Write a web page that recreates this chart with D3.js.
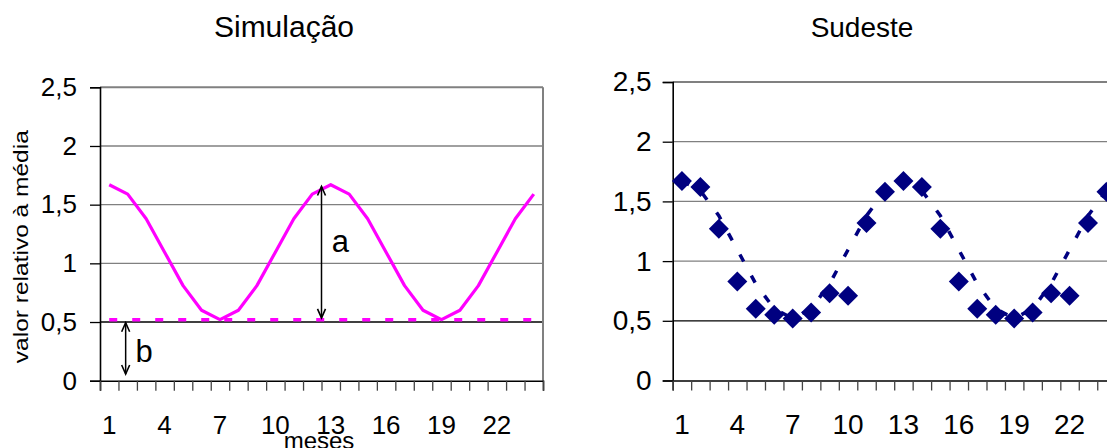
<!DOCTYPE html>
<html>
<head>
<meta charset="utf-8">
<script src="https://cdn.jsdelivr.net/npm/d3@7"></script>
<style>
  body { margin: 0; background: #fff; }
  text { font-family: Arial, "Liberation Sans", sans-serif; fill: #000; }
</style>
</head>
<body>
<script>
// meses 1..24
var meses = [1,2,3,4,5,6,7,8,9,10,11,12,13,14,15,16,17,18,19,20,21,22,23,24];
var rotulosX = [1,4,7,10,13,16,19,22];
var rotulosY = [0,0.5,1,1.5,2,2.5];

// simulacao (curva rosa)
var simulacao = [1.67,1.59,1.38,1.095,0.81,0.60,0.52,0.60,0.81,1.095,1.38,1.59,
                 1.67,1.59,1.38,1.095,0.81,0.60,0.52,0.60,0.81,1.095,1.38,1.59];
var nivelB = 0.52;

// sudeste (losangos) + curva ajustada tracejada
var sudeste = [1.67,1.62,1.27,0.83,0.60,0.55,0.52,0.57,0.73,0.71,1.32,1.58,
               1.67,1.62,1.27,0.83,0.60,0.55,0.52,0.57,0.73,0.71,1.32,1.58];
var ajuste = [1.67,1.59,1.38,1.095,0.81,0.60,0.52,0.60,0.81,1.095,1.38,1.59,
              1.67,1.59,1.38,1.095,0.81,0.60,0.52,0.60,0.81,1.095,1.38,1.59];

var svg = d3.select('body').append('svg').attr('width', 1107).attr('height', 448);

// ponta de seta aberta
var defs = svg.append('defs');
defs.append('marker').attr('id', 'seta')
  .attr('viewBox', '-11 -6 13 12').attr('refX', 0).attr('refY', 0)
  .attr('markerWidth', 13).attr('markerHeight', 12)
  .attr('markerUnits', 'userSpaceOnUse').attr('orient', 'auto-start-reverse')
  .append('path').attr('d', 'M-9,-4L0,0L-9,4')
  .attr('fill', 'none').attr('stroke', '#000').attr('stroke-width', 1.6);

function grafico(opt) {
  var x = d3.scaleLinear().domain([0.5, 24.5]).range([opt.x0, opt.x0 + 443]);
  var y = d3.scaleLinear().domain([0, 2.5]).range([opt.yb, opt.yt]);
  var g = svg.append('g');

  // grade
  g.selectAll('line.grade').data(rotulosY.filter(function(d){return d > 0;}))
    .enter().append('line')
    .attr('x1', x(0.5)).attr('x2', x(24.5))
    .attr('y1', function(d){return y(d);}).attr('y2', function(d){return y(d);})
    .attr('stroke', function(d){return d == 0.5 ? '#000' : '#808080';})
    .attr('stroke-width', function(d){return d == 2.5 ? 2 : 1.3;});

  if (opt.borda) {
    g.append('line').attr('x1', x(24.5)).attr('x2', x(24.5))
      .attr('y1', y(0)).attr('y2', y(2.5))
      .attr('stroke', '#808080').attr('stroke-width', 2);
  }

  // eixo y
  var ey = d3.axisLeft(y).tickValues(rotulosY).tickSize(10).tickPadding(opt.padY)
    .tickFormat(function(d){return String(d).replace('.', ',');});
  g.append('g').attr('transform', 'translate(' + x(0.5) + ',0)').call(ey)
    .call(function(s){
      s.select('.domain').attr('stroke', '#000').attr('stroke-width', 1.6);
      s.selectAll('.tick line').attr('stroke', '#000').attr('stroke-width', 1.3);
      s.selectAll('.tick text').attr('font-size', opt.fs).attr('fill', '#000')
        .attr('font-family', 'Arial, "Liberation Sans", sans-serif');
    });

  // eixo x: marcas entre categorias
  var limites = meses.map(function(m){return m - 0.5;}).concat([24.5]);
  var ex = d3.axisBottom(x).tickValues(limites).tickSize(10).tickFormat('');
  g.append('g').attr('transform', 'translate(0,' + y(0) + ')').call(ex)
    .call(function(s){
      s.select('.domain').attr('stroke', '#000').attr('stroke-width', 1.6);
      s.selectAll('.tick line').attr('stroke', '#444').attr('stroke-width', 1.3);
    });
  g.selectAll('text.rx').data(rotulosX).enter().append('text')
    .attr('x', function(d){return x(d);}).attr('y', 434)
    .attr('text-anchor', 'middle').attr('font-size', opt.fs)
    .text(function(d){return d;});

  // titulo
  g.append('text').attr('x', opt.tx).attr('y', 37).attr('text-anchor', 'middle')
    .attr('font-size', opt.tfs).text(opt.titulo);

  return {g: g, x: x, y: y};
}

// ---- Simulação ----
var A = grafico({x0: 100, yb: 380.7, yt: 87.3, fs: 26, padY: 13, borda: true,
                 tx: 284, tfs: 30, titulo: 'Simulação'});

A.g.append('path')
  .attr('d', d3.line().x(function(d){return A.x(d[0]);}).y(function(d){return A.y(d[1]);})([[1, nivelB], [24, nivelB]]))
  .attr('fill', 'none').attr('stroke', '#ff00ff').attr('stroke-width', 3.5)
  .attr('stroke-dasharray', '8,15');

A.g.append('path').datum(simulacao)
  .attr('d', d3.line().x(function(d, i){return A.x(meses[i]);}).y(function(d){return A.y(d);}))
  .attr('fill', 'none').attr('stroke', '#ff00ff').attr('stroke-width', 3.2)
  .attr('stroke-linejoin', 'round');

// setas a e b
A.g.append('line').attr('x1', A.x(12.5)).attr('x2', A.x(12.5))
  .attr('y1', A.y(1.655)).attr('y2', A.y(0.535))
  .attr('stroke', '#000').attr('stroke-width', 1.5)
  .attr('marker-start', 'url(#seta)').attr('marker-end', 'url(#seta)');
A.g.append('text').attr('x', A.x(13.05)).attr('y', A.y(1.1))
  .attr('font-size', 31).text('a');

A.g.append('line').attr('x1', A.x(1.89)).attr('x2', A.x(1.89))
  .attr('y1', A.y(0.494)).attr('y2', A.y(0.057))
  .attr('stroke', '#000').attr('stroke-width', 1.5)
  .attr('marker-start', 'url(#seta)').attr('marker-end', 'url(#seta)');
A.g.append('text').attr('x', A.x(2.42)).attr('y', A.y(0.162))
  .attr('font-size', 31).text('b');

svg.append('text').attr('transform', 'translate(28,246.7) rotate(-90)')
  .attr('text-anchor', 'middle').attr('font-size', 20)
  .attr('textLength', 233).attr('lengthAdjust', 'spacingAndGlyphs')
  .text('valor relativo à média');

svg.append('text').attr('x', 319).attr('y', 449).attr('text-anchor', 'middle')
  .attr('font-size', 24).text('meses');

// ---- Sudeste ----
var B = grafico({x0: 672.7, yb: 380.5, yt: 82, fs: 28, padY: 11, borda: true,
                 tx: 862, tfs: 28, titulo: 'Sudeste'});

B.g.append('path').datum(ajuste)
  .attr('d', d3.line().x(function(d, i){return B.x(meses[i]);}).y(function(d){return B.y(d);}))
  .attr('fill', 'none').attr('stroke', '#000080').attr('stroke-width', 3.5)
  .attr('stroke-dasharray', '8,16');

B.g.selectAll('path.losango').data(sudeste).enter().append('path')
  .attr('d', 'M0,-10L10,0L0,10L-10,0Z')
  .attr('transform', function(d, i){return 'translate(' + B.x(meses[i]) + ',' + B.y(d) + ')';})
  .attr('fill', '#000080');
</script>
</body>
</html>
